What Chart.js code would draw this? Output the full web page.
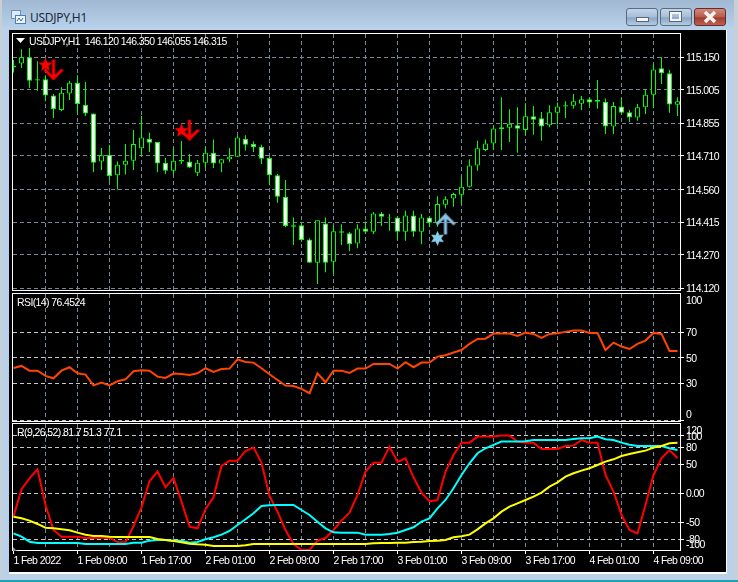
<!DOCTYPE html>
<html>
<head>
<meta charset="utf-8">
<title>USDJPY,H1</title>
<script src="https://cdn.jsdelivr.net/npm/chart.js@4"></script>
<style>
html, body { margin: 0; padding: 0; }
body { width: 738px; height: 582px; position: relative; overflow: hidden; background: #b9d2ea; font-family: "Liberation Sans", sans-serif; }
#edge { position: absolute; left: 0; top: 0; width: 738px; height: 30px; background: linear-gradient(#a0b8d2, #bad3ec); }
#leftedge { position: absolute; left: 0; top: 0; width: 2px; height: 582px; background: #c9cfd6; }
#rightedge { position: absolute; right: 0; top: 0; width: 4px; height: 582px; background: #c9cfd6; }
#bottomedge { position: absolute; left: 0; top: 580px; width: 738px; height: 2px; background: #22a0b4; }
#win { position: absolute; left: 9px; top: 30px; width: 717px; height: 542px; background: #000; border-bottom: 2px solid #fff; border-right: 1px solid #fff; }
#title { position: absolute; left: 30px; top: 9px; font: 12px "Noto Sans", sans-serif; letter-spacing: -0.3px; color: #1c2b3a; }
.btn { position: absolute; top: 8px; width: 30px; height: 16px; border: 1px solid #5a6b80; border-radius: 3px; background: linear-gradient(#c4d6e8 0, #a6bdd6 50%, #8aa6c4 55%, #b4cbe2 100%); }
#closebtn { background: linear-gradient(#d08a7c 0, #b85a4c 50%, #a03c30 55%, #bc6052 100%); border-color: #6a2a2a; }
canvas { position: absolute; left: 0; top: 0; }
.note { position: absolute; color: #fff; font-size: 10.5px; letter-spacing: -0.6px; white-space: pre; }
#shift { position: absolute; left: 13px; top: 547px; width: 0; height: 0; border-bottom: 4px solid #8a8f96; border-right: 4px solid transparent; }
</style>
</head>
<body>
<div id="edge"></div>
<div id="leftedge"></div>
<div id="rightedge"></div>
<div id="bottomedge"></div>
<svg style="position:absolute;left:11px;top:10px" width="15" height="14">
  <rect x="0.5" y="0.5" width="9" height="8" fill="#dfeaf6" stroke="#6f8fb5"/>
  <rect x="4.5" y="5.5" width="10" height="8" fill="#eef4fb" stroke="#4a7fb8"/>
  <path d="M6 11 L8 8 L10 11 L12 8" fill="none" stroke="#2f6fb0"/>
</svg>
<div id="title">USDJPY,H1</div>
<div class="btn" style="left:626px"><div style="position:absolute;left:9px;top:8px;width:11px;height:3px;background:#f4f6f8;border:1px solid #56657a"></div></div>
<div class="btn" style="left:660px"><div style="position:absolute;left:9px;top:3px;width:7px;height:5px;border:2px solid #f4f6f8;outline:1px solid #56657a"></div></div>
<svg class="btn" id="closebtn" style="left:694px" width="30" height="16"><path d="M10 3 L20 13 M20 3 L10 13" stroke="#f6f2f0" stroke-width="3.5"/></svg>
<div id="win"></div>
<canvas id="priceChart" width="738" height="582"></canvas>
<canvas id="rsiChart" width="738" height="582"></canvas>
<canvas id="macdChart" width="738" height="582"></canvas>
<svg style="position:absolute;left:16px;top:38px" width="10" height="6"><path d="M0 0 H9 L4.5 5 Z" fill="#fff"/></svg>
<div class="note" style="left:29px;top:35px">USDJPY,H1  146.120 146.350 146.055 146.315</div>
<div class="note" style="left:17px;top:296px">RSI(14) 76.4524</div>
<div class="note" style="left:17px;top:426px">R(9,26,52) 81.7 51.3 77.1</div>
<div id="shift"></div>
<script>
// candles, oldest first
const openPrices = [115.105,115.123,115.150,115.047,115.052,114.980,114.915,114.989,115.037,114.939,114.900,114.686,114.716,114.624,114.671,114.689,114.744,114.787,114.772,114.680,114.644,114.685,114.686,114.635,114.680,114.725,114.677,114.695,114.707,114.787,114.763,114.751,114.701,114.624,114.528,114.395,114.401,114.338,114.234,114.409,114.238,114.368,114.365,114.320,114.387,114.372,114.454,114.432,114.436,114.372,114.445,114.372,114.436,114.412,114.493,114.520,114.537,114.573,114.668,114.737,114.766,114.838,114.836,114.847,114.826,114.887,114.878,114.847,114.903,114.931,114.934,114.943,114.963,114.952,114.952,114.841,114.931,114.905,114.882,114.927,114.983,115.101,115.079,114.939];
const highPrices = [115.138,115.186,115.192,115.132,115.070,114.986,115.016,115.046,115.070,115.040,114.900,114.746,114.760,114.686,114.763,114.826,114.888,114.814,114.772,114.701,114.746,114.777,114.719,114.692,114.749,114.784,114.695,114.744,114.799,114.802,114.775,114.760,114.707,114.630,114.603,114.436,114.415,114.343,114.424,114.436,114.401,114.406,114.371,114.406,114.418,114.460,114.460,114.451,114.439,114.466,114.466,114.451,114.442,114.531,114.531,114.546,114.615,114.695,114.778,114.784,114.847,114.972,114.918,114.927,114.945,114.933,114.906,114.936,114.948,114.954,114.986,114.978,114.972,115.049,114.966,114.951,114.969,114.915,114.942,115.007,115.123,115.150,115.093,114.972];
const lowPrices = [115.082,115.102,115.013,115.001,114.954,114.879,114.909,114.960,114.900,114.888,114.638,114.647,114.600,114.561,114.627,114.647,114.710,114.728,114.638,114.630,114.630,114.674,114.656,114.621,114.656,114.656,114.638,114.683,114.707,114.734,114.728,114.674,114.579,114.502,114.392,114.313,114.328,114.234,114.139,114.192,114.183,114.313,114.285,114.299,114.362,114.362,114.398,114.377,114.335,114.332,114.350,114.317,114.392,114.395,114.476,114.484,114.496,114.570,114.644,114.731,114.740,114.737,114.772,114.725,114.805,114.805,114.778,114.838,114.850,114.879,114.921,114.915,114.930,114.921,114.808,114.808,114.897,114.862,114.867,114.897,114.924,115.031,114.903,114.888];
const closePrices = [115.114,115.150,115.046,115.052,114.980,114.918,114.992,115.037,114.942,114.900,114.680,114.713,114.621,114.671,114.689,114.763,114.793,114.769,114.677,114.644,114.689,114.692,114.659,114.680,114.725,114.677,114.695,114.707,114.793,114.760,114.749,114.698,114.624,114.528,114.398,114.401,114.335,114.234,114.424,114.234,114.374,114.374,114.317,114.387,114.372,114.454,114.439,114.436,114.372,114.445,114.372,114.436,114.412,114.496,114.517,114.540,114.573,114.668,114.744,114.766,114.833,114.829,114.854,114.832,114.887,114.872,114.841,114.905,114.931,114.936,114.954,114.963,114.949,114.960,114.841,114.933,114.903,114.882,114.927,114.983,115.096,115.079,114.940,114.954];

const rsiValues = [42.0,43.6,39.9,39.9,35.8,33.9,39.9,42.6,37.8,36.8,28.4,30.5,28.4,31.6,33.1,39.4,40.2,39.9,35.2,34.2,37.6,37.3,36.5,37.8,41.8,38.9,41.2,41.5,48.8,46.7,46.2,41.8,37.1,32.6,28.2,27.9,25.6,22.2,37.8,30.8,39.9,39.9,38.1,41.5,41.5,45.2,45.2,45.2,41.5,46.5,42.6,46.2,46.2,50.9,52.0,54.1,56.1,60.9,64.8,65.0,69.0,69.0,69.0,67.1,69.7,68.7,65.6,68.7,69.2,70.3,71.3,71.3,69.5,69.5,56.1,61.9,58.8,56.9,60.9,63.5,69.5,68.7,55.4,55.4];

const redValues = [-40.6,7.0,26.1,41.7,-20.3,-63.8,-75.4,-75.4,-75.4,-77.7,-77.7,-77.1,-77.1,-85.2,-85.2,-56.8,-24.3,20.9,37.7,10.4,26.7,-14.5,-58.0,-60.9,-27.8,-7.0,47.5,56.8,56.8,73.6,79.4,53.3,-4.6,-31.9,-63.8,-88.1,-98.6,-98.6,-82.3,-77.7,-63.8,-47.5,-33.6,-2.9,37.7,53.3,53.3,81.2,54.5,60.9,27.8,1.2,-13.9,-11.6,37.7,66.7,88.1,88.1,98.6,98.6,98.6,100.3,100.3,89.9,88.1,88.1,77.1,77.1,77.1,82.3,82.9,92.8,88.1,88.1,31.9,2.9,-37.7,-63.8,-69.6,-20.3,31.9,60.9,75.4,60.9];
const cyanValues = [-69.6,-75.4,-84.1,-86.4,-86.4,-86.4,-86.4,-86.4,-86.4,-88.1,-88.1,-88.1,-88.1,-88.1,-88.1,-85.8,-85.8,-82.3,-81.2,-81.2,-82.3,-82.3,-85.8,-84.6,-80.0,-76.5,-71.9,-65.5,-55.1,-45.2,-34.8,-22.0,-20.9,-20.3,-20.3,-20.3,-29.0,-37.7,-49.3,-60.9,-67.8,-68.4,-68.4,-68.4,-71.9,-71.9,-71.9,-70.7,-68.4,-63.8,-59.1,-49.3,-43.5,-26.1,-11.6,8.7,31.9,52.2,69.6,78.3,84.1,89.9,89.9,89.9,90.4,92.8,92.8,92.8,92.8,92.8,94.5,95.7,95.7,98.6,93.9,92.8,88.1,84.6,82.3,82.3,82.3,82.3,78.3,75.4];
const yellowValues = [-40.6,-43.5,-47.5,-53.3,-59.7,-60.9,-62.6,-64.3,-68.4,-71.9,-74.2,-74.2,-75.4,-75.9,-75.9,-75.9,-75.9,-75.9,-79.4,-81.2,-82.9,-85.2,-87.5,-88.7,-89.3,-91.6,-91.6,-91.6,-91.6,-90.4,-88.1,-88.1,-88.1,-88.1,-88.1,-88.1,-88.1,-88.1,-88.1,-88.1,-88.1,-88.1,-88.1,-88.1,-88.1,-87.0,-86.4,-86.4,-85.8,-85.8,-84.6,-84.1,-82.9,-82.3,-81.2,-76.5,-74.8,-71.9,-62.6,-52.2,-43.5,-31.9,-23.2,-17.4,-11.6,-5.8,1.2,11.6,19.1,29.0,34.8,39.4,43.5,49.3,55.1,59.1,64.9,68.4,71.3,74.2,79.4,82.3,87.0,88.1];

// bottom axis
const timeTicks = [0,8,16,24,32,40,48,56,64,72,80];
const timeLabels = ['1 Feb 2022','1 Feb 09:00','1 Feb 17:00','2 Feb 01:00','2 Feb 09:00','2 Feb 17:00','3 Feb 01:00','3 Feb 09:00','3 Feb 17:00','4 Feb 01:00','4 Feb 09:00'];
const gridBars = [4,8,12,16,20,24,28,32,36,40,44,48,52,56,60,64,68,72,76,80];

// right axes
const priceTicks = [115.150,115.005,114.855,114.710,114.560,114.415,114.270,114.120];
const rsiGrid = [70,50,30,1];
const rsiLabelValues = [95.5,70,50,30,5.5];
const rsiLabels = ['100','70','50','30','0'];
const macdGrid = [100,80,50,0,-50,-80];
const macdLabelValues = [110,100,80,50,0,-50,-80,-88.5];
const macdLabels = ['120','100','80','50','0.00','-50','-80','-100'];

// signal arrows and stars
const sellStarX = [4,21], sellStarY = [115.116,114.823];
const sellArrowX = [5,22], sellArrowY = [115.096,114.827];
const buyStarX = [53], buyStarY = [114.343];
const buyArrowX = [54], buyArrowY = [114.405];

const barIndex = closePrices.map((c, i) => i);
const GREEN = '#00ff00';
const GRID = '#778899';
const LEVEL = '#c4c8cc';
const FONT = { family: '"Liberation Sans", sans-serif', size: 10.5 };

function arrowMark(color, up) {
    const c = document.createElement('canvas');
    c.width = 20; c.height = 22;
    const g = c.getContext('2d');
    g.strokeStyle = color;
    g.lineWidth = 3;
    g.beginPath();
    if (up) {
        g.moveTo(10, 21); g.lineTo(10, 2);
        g.moveTo(1, 11); g.lineTo(10, 2); g.lineTo(19, 11);
    } else {
        g.moveTo(10, 1); g.lineTo(10, 20);
        g.moveTo(1, 11); g.lineTo(10, 20); g.lineTo(19, 11);
    }
    g.stroke();
    return c;
}

function starMark(color, points, size, inner) {
    const c = document.createElement('canvas');
    c.width = size; c.height = size;
    const g = c.getContext('2d');
    g.fillStyle = color;
    g.beginPath();
    for (let i = 0; i < points * 2; i++) {
        const r = (i % 2 ? inner : 1) * size / 2;
        const a = -Math.PI / 2 + i * Math.PI / points;
        g.lineTo(size / 2 + r * Math.cos(a), size / 2 + r * Math.sin(a));
    }
    g.closePath();
    g.fill();
    return c;
}

const frame = {
    id: 'frame',
    beforeDraw(chart) {
        chart.ctx.letterSpacing = '-0.6px';
    },
    afterDraw(chart) {
        const a = chart.chartArea, g = chart.ctx;
        g.save();
        g.strokeStyle = '#fff';
        g.lineWidth = 1;
        g.strokeRect(a.left - 0.5, a.top - 0.5, a.right - a.left, a.bottom - a.top);
        g.restore();
    }
};

function xAxis(labelled) {
    return {
        type: 'linear',
        min: -0.0625,
        max: 83.4375,
        offset: false,
        afterBuildTicks(s) { s.ticks = (labelled ? [0].concat(gridBars) : gridBars).map(v => ({ value: v })); },
        afterFit(s) { s.height = labelled ? 20 : 0; },
        border: { display: false, dash: [4, 3] },
        grid: {
            offset: false,
            color: ctx => ctx.tick && ctx.tick.value === 0 ? 'transparent' : GRID,
            drawTicks: labelled,
            tickLength: 3,
            tickColor: ctx => ctx.tick.value % 8 === 0 ? '#fff' : 'transparent'
        },
        ticks: {
            display: labelled,
            autoSkip: false,
            maxRotation: 0,
            align: 'start',
            padding: 1,
            color: '#fff',
            font: FONT,
            callback: v => timeTicks.includes(v) ? timeLabels[timeTicks.indexOf(v)] : ''
        }
    };
}

function yAxis(min, max, labelValues, labels, gridValues, gridColor) {
    const tickValues = labelValues.concat(gridValues.filter(v => !labelValues.includes(v)));
    return {
        position: 'right',
        min: min,
        max: max,
        stacked: false,
        afterBuildTicks(s) { s.ticks = tickValues.map(v => ({ value: v })); },
        afterFit(s) { s.width = 57; },
        border: { display: false, dash: [4, 3] },
        grid: {
            color: ctx => ctx.tick && gridValues.includes(ctx.tick.value) ? gridColor : 'transparent',
            tickLength: 3,
            tickColor: ctx => gridValues.includes(ctx.tick.value) ? '#fff' : 'transparent'
        },
        ticks: {
            autoSkip: false,
            padding: 2,
            labelOffset: 1,
            color: '#fff',
            font: FONT,
            callback: v => labelValues.includes(v) ? labels[labelValues.indexOf(v)] : ''
        }
    };
}

function baseOptions(top, bottom, scales) {
    return {
        responsive: false,
        animation: false,
        events: [],
        layout: { autoPadding: false, padding: { left: 13, right: 0, top: top, bottom: bottom } },
        plugins: { legend: { display: false }, tooltip: { enabled: false } },
        scales: scales
    };
}

function pairs(xs, ys) {
    return xs.map((x, i) => ({ x: x, y: ys[i] }));
}

function marks(xs, ys, image) {
    return { type: 'scatter', data: pairs(xs, ys), pointStyle: image, pointRadius: 8, showLine: false };
}

function line(values, color) {
    return { data: pairs(barIndex, values), borderColor: color, borderWidth: 2, pointRadius: 0, tension: 0 };
}

new Chart(document.getElementById('priceChart'), {
    type: 'bar',
    data: {
        datasets: [
            marks(sellArrowX, sellArrowY, arrowMark('#ff0000', false)),
            marks(sellStarX, sellStarY, starMark('#ff0000', 5, 15, 0.42)),
            marks(buyArrowX, buyArrowY, arrowMark('#87c4ea', true)),
            marks(buyStarX, buyStarY, starMark('#87ceeb', 6, 15, 0.5)),
            {
                data: barIndex.map(i => ({ x: i, y: [openPrices[i], closePrices[i]] })),
                stack: 'candle',
                barThickness: 5,
                inflateAmount: 0,
                borderWidth: 1,
                borderSkipped: false,
                borderColor: GREEN,
                backgroundColor: barIndex.map(i => closePrices[i] < openPrices[i] ? '#fff' : '#000')
            },
            {
                data: barIndex.map(i => ({ x: i, y: [lowPrices[i], highPrices[i]] })),
                stack: 'candle',
                barThickness: 1,
                inflateAmount: 0,
                backgroundColor: GREEN
            }
        ]
    },
    options: baseOptions(34, 291, {
        x: xAxis(false),
        y: yAxis(114.108, 115.254, priceTicks, priceTicks.map(p => p.toFixed(3)), priceTicks, GRID)
    }),
    plugins: [frame]
});

new Chart(document.getElementById('rsiChart'), {
    type: 'line',
    data: { datasets: [line(rsiValues, '#ff4500')] },
    options: baseOptions(294, 160, {
        x: xAxis(false),
        y: yAxis(-0.35, 100, rsiLabelValues, rsiLabels, rsiGrid, LEVEL)
    }),
    plugins: [frame]
});

new Chart(document.getElementById('macdChart'), {
    type: 'line',
    data: {
        datasets: [
            line(yellowValues, '#ffff00'),
            line(cyanValues, '#00ffff'),
            line(redValues, '#ff0000')
        ]
    },
    options: baseOptions(424, 11, {
        x: xAxis(true),
        y: yAxis(-100.3, 120.5, macdLabelValues, macdLabels, macdGrid, LEVEL)
    }),
    plugins: [frame]
});
</script>
</body>
</html>
